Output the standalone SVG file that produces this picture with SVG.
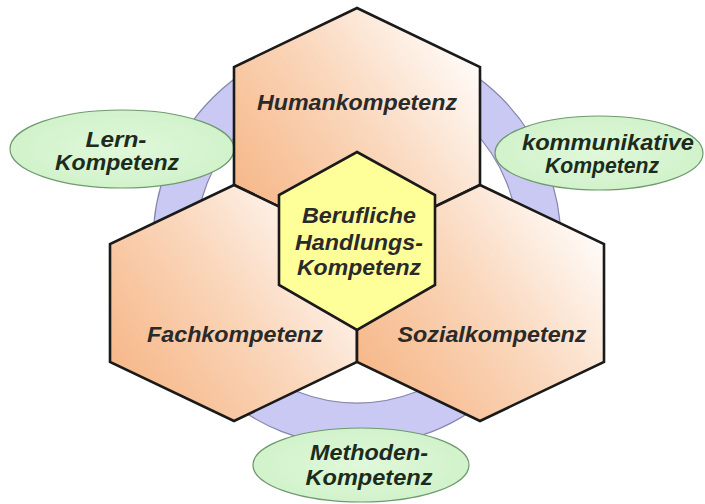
<svg xmlns="http://www.w3.org/2000/svg" width="705" height="504" viewBox="0 0 705 504">
<defs>
<linearGradient id="og" x1="0" y1="0.85" x2="1" y2="0.15">
<stop offset="0" stop-color="#f6b585"/>
<stop offset="0.5" stop-color="#fad6ba"/>
<stop offset="1" stop-color="#ffffff"/>
</linearGradient>
<radialGradient id="gg" cx="0.5" cy="0.5" r="0.6">
<stop offset="0" stop-color="#e0f8da"/>
<stop offset="1" stop-color="#cef1c8"/>
</radialGradient>
<style>
.hex{fill:url(#og);stroke:#1a1a1a;stroke-width:2.6;stroke-linejoin:miter}
.core{fill:#ffff99;stroke:#1a1a1a;stroke-width:2.6}
.ell{fill:url(#gg);stroke:#6e9a6e;stroke-width:1.2}
.ring{fill:#c9c9f4;stroke:#8686ae;stroke-width:1.2;fill-rule:evenodd}
text{font-family:"Liberation Sans",Arial,sans-serif;font-weight:bold;font-style:italic;font-size:22px;text-anchor:middle}
.ht{fill:#2a2a2a}
.et{fill:#1c2c1c}
</style>
</defs>
<rect width="705" height="504" fill="#ffffff"/>
<g id="connectors">
<path class="ring" d="M153,242 A204,204 0 1,0 561,242 A204,204 0 1,0 153,242 Z M196,242 A161,161 0 1,1 518,242 A161,161 0 1,1 196,242 Z"/>
</g>
<g id="lern">
<ellipse class="ell" cx="122" cy="149" rx="112" ry="39"/>
<text class="et" x="116" y="147" textLength="61" lengthAdjust="spacingAndGlyphs">Lern-</text>
<text class="et" x="117" y="170" textLength="124" lengthAdjust="spacingAndGlyphs">Kompetenz</text>
</g>
<g id="kommunikativ">
<ellipse class="ell" cx="599" cy="153" rx="104" ry="37"/>
<text class="et" x="608" y="150" textLength="172" lengthAdjust="spacingAndGlyphs">kommunikative</text>
<text class="et" x="602" y="173" textLength="114" lengthAdjust="spacingAndGlyphs">Kompetenz</text>
</g>
<g id="methoden">
<ellipse class="ell" cx="361" cy="465" rx="108" ry="37"/>
<text class="et" x="369" y="460" textLength="118" lengthAdjust="spacingAndGlyphs">Methoden-</text>
<text class="et" x="369" y="485" textLength="127" lengthAdjust="spacingAndGlyphs">Kompetenz</text>
</g>
<g id="human">
<polygon class="hex" points="357,8 480,67 480,185 357,244 234,185 234,67"/>
<text class="ht" x="357" y="110" textLength="200" lengthAdjust="spacingAndGlyphs">Humankompetenz</text>
</g>
<g id="fach">
<polygon class="hex" points="234,185 357,244 357,362 234,421 110,362 110,244"/>
<text class="ht" x="235" y="342" textLength="176" lengthAdjust="spacingAndGlyphs">Fachkompetenz</text>
</g>
<g id="sozial">
<polygon class="hex" points="480,185 604,244 604,362 480,421 357,362 357,244"/>
<text class="ht" x="492" y="342" textLength="189" lengthAdjust="spacingAndGlyphs">Sozialkompetenz</text>
</g>
<g id="handlung">
<polygon class="core" points="357,152 435,195 435,285 357,330 279,285 279,195"/>
<text class="ht" x="359" y="223" textLength="114" lengthAdjust="spacingAndGlyphs">Berufliche</text>
<text class="ht" x="359" y="250" textLength="128" lengthAdjust="spacingAndGlyphs">Handlungs-</text>
<text class="ht" x="359" y="275" textLength="124" lengthAdjust="spacingAndGlyphs">Kompetenz</text>
</g>
</svg>
